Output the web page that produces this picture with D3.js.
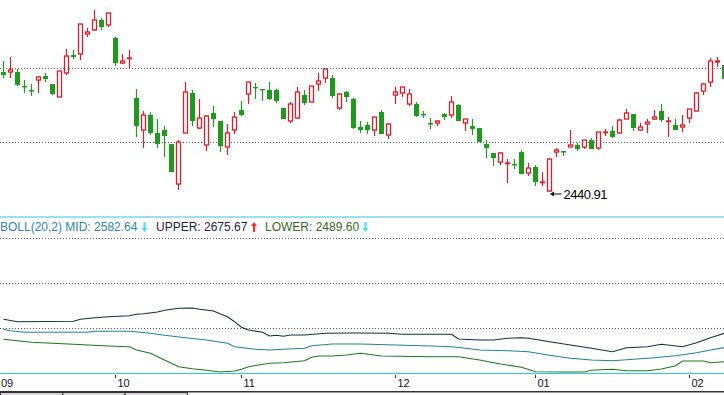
<!DOCTYPE html>
<html>
<head>
<meta charset="utf-8">
<script src="https://cdn.jsdelivr.net/npm/d3@7"></script>
<style>
  body { margin: 0; background: #fff; }
  svg { display: block; }
</style>
</head>
<body>
<svg id="chart"></svg>
<script>
// daily OHLC, one entry per trading day (Sep .. Feb)
const opens = [2662.8,2662.8,2662.8,2636.9,2629.5,2648.0,2655.4,2640.6,2616.6,2661.0,
  2694.3,2696.1,2733.1,2740.5,2759.0,2749.8,2725.7,2679.5,2687.8,2614.7,
  2555.5,2583.3,2550.0,2555.5,2529.6,2455.6,2550.0,2624.0,2559.2,2527.8,
  2587.0,2572.2,2524.1,2555.5,2592.5,2622.1,2635.1,2631.4,2629.5,2629.5,
  2596.2,2572.2,2577.7,2620.3,2607.3,2640.6,2651.7,2651.7,2596.2,2625.8,
  2612.9,2561.1,2564.8,2555.5,2588.8,2546.3,2620.3,2624.0,2603.6,2603.6,
  2585.1,2568.5,2568.5,2585.1,2583.3,2601.8,2568.5,2562.9,2559.2,2529.6,
  2513.0,2496.3,2493.5,2492.6,2514.8,2476.0,2487.1,2458.4,2442.7,2514.8,
  2516.7,2524.1,2527.8,2524.1,2537.0,2522.2,2550.9,2553.7,2550.0,2575.9,
  2585.1,2555.5,2566.6,2575.9,2590.7,2571.2,2564.8,2561.1,2577.7,2590.7,
  2627.7,2644.3,2681.3,2675.8];
const highs = [2683.2,2690.6,2668.4,2648.0,2640.6,2655.4,2661.0,2640.6,2664.7,2705.4,
  2703.5,2751.6,2744.2,2777.5,2762.7,2772.0,2727.6,2696.1,2703.5,2631.4,
  2590.7,2588.8,2575.9,2562.9,2529.6,2537.0,2644.3,2629.5,2612.9,2583.3,
  2599.9,2572.2,2566.6,2588.8,2609.2,2644.3,2642.5,2631.4,2644.3,2631.4,
  2596.2,2607.3,2635.1,2629.5,2636.9,2661.0,2668.4,2657.3,2624.0,2627.7,
  2614.7,2572.2,2570.3,2579.6,2592.5,2568.5,2635.1,2635.1,2631.4,2607.3,
  2590.7,2577.7,2574.0,2587.0,2618.4,2603.6,2575.9,2575.9,2559.2,2537.0,
  2513.0,2514.8,2501.9,2501.9,2518.5,2494.5,2490.8,2477.8,2503.7,2522.2,
  2516.7,2555.5,2531.5,2537.0,2540.7,2551.8,2557.4,2562.9,2575.9,2594.4,
  2585.1,2568.5,2575.9,2592.5,2603.6,2579.6,2575.9,2583.3,2594.4,2625.8,
  2642.5,2688.7,2690.6,2675.8];
const lows = [2651.7,2651.7,2636.9,2624.0,2618.4,2624.0,2644.3,2620.3,2616.6,2657.3,
  2686.9,2685.0,2727.6,2738.7,2740.5,2746.1,2673.9,2677.6,2670.2,2542.6,
  2522.2,2546.3,2522.2,2505.6,2477.8,2444.5,2550.0,2562.9,2557.4,2516.7,
  2561.1,2514.8,2509.3,2548.1,2581.4,2603.6,2612.9,2609.2,2611.0,2605.5,
  2575.9,2568.5,2575.9,2601.8,2607.3,2627.7,2642.5,2614.7,2592.5,2607.3,
  2557.4,2550.0,2548.1,2544.4,2548.1,2538.9,2603.6,2616.6,2599.9,2579.6,
  2577.7,2557.4,2562.9,2574.0,2577.7,2572.2,2553.7,2546.3,2533.3,2503.7,
  2488.9,2490.8,2457.5,2483.4,2474.1,2470.4,2451.9,2451.9,2440.91,2505.6,
  2507.4,2524.1,2516.7,2520.4,2520.4,2518.5,2544.4,2540.7,2548.1,2575.9,
  2553.7,2553.7,2550.0,2574.0,2570.3,2542.6,2555.5,2551.8,2568.5,2590.7,
  2620.3,2635.1,2672.1,2649.9];
const closes = [2657.3,2666.5,2638.8,2636.0,2626.7,2653.6,2649.9,2622.1,2664.7,2692.4,
  2690.6,2751.6,2736.8,2759.0,2746.1,2772.0,2679.5,2683.2,2688.7,2562.9,
  2583.3,2550.0,2529.6,2544.4,2477.8,2533.3,2625.8,2572.2,2577.7,2581.4,
  2575.9,2525.9,2550.0,2579.6,2583.3,2644.3,2634.1,2630.4,2612.9,2609.2,
  2575.9,2603.6,2625.8,2605.5,2636.9,2646.2,2668.4,2618.4,2622.1,2616.6,
  2559.2,2555.5,2555.5,2579.6,2548.1,2566.6,2625.8,2635.1,2622.1,2581.4,
  2584.2,2565.7,2572.2,2579.6,2607.3,2572.2,2575.9,2557.4,2533.3,2522.2,
  2503.7,2513.0,2494.5,2490.8,2474.1,2485.2,2459.3,2459.3,2501.9,2518.5,
  2513.9,2527.8,2520.4,2537.0,2520.4,2551.8,2551.8,2542.6,2574.0,2587.0,
  2559.2,2561.1,2570.3,2579.6,2574.0,2572.2,2555.5,2564.8,2594.4,2624.0,
  2640.6,2683.2,2683.2,2649.9];

// first trading day of each month (index into the series) and its label
const monthStarts = [-1, 16, 34, 56, 76, 98];
const monthLabels = ["09", "10", "11", "12", "01", "02"];

// BOLL(20,2): [day index, value]
const bollUpper = [[0,2767.3],[2,2751.6],[10,2754.2],[11,2767.3],[13,2777.8],[15,2784.3],[18,2790.9],
  [19,2800.1],[20,2804.0],[22,2815.1],[23,2826.3],[25,2839.4],[27,2841.3],[28,2832.8],[30,2821.7],
  [31,2802.0],[32,2784.3],[33,2751.6],[34,2714.9],[35,2697.2],[37,2682.2],[38,2657.9],[39,2662.5],
  [40,2656.0],[41,2664.5],[43,2664.5],[46,2675.6],[50,2677.6],[55,2675.6],[57,2669.1],[64,2669.1],
  [65,2638.3],[68,2631.7],[70,2631.7],[72,2642.9],[74,2646.8],[75,2642.9],[78,2620.6],[81,2599.0],
  [84,2577.4],[87,2555.1],[89,2581.3],[92,2587.8],[94,2603.6],[97,2587.8],[99,2614.0],[101,2646.8],
  [103,2675.67]];
const bollMid = [[0,2701.8],[1,2692.6],[3,2682.2],[12,2682.2],[13,2688.7],[18,2688.7],[21,2675.6],
  [23,2662.5],[26,2646.8],[29,2631.7],[32,2610.1],[33,2587.8],[36,2570.8],[38,2566.2],[40,2570.8],
  [43,2577.4],[44,2594.4],[47,2605.5],[51,2605.5],[56,2599.0],[61,2592.4],[64,2587.8],[66,2577.4],
  [68,2566.2],[72,2561.6],[75,2555.1],[78,2531.5],[81,2511.9],[84,2500.7],[87,2496.1],[90,2505.3],
  [93,2515.8],[96,2528.9],[99,2548.5],[101,2566.2],[103,2582.64]];
const bollLower = [[0,2636.3],[2,2627.1],[4,2616.7],[7,2610.1],[10,2603.6],[15,2592.4],[18,2587.8],
  [19,2566.2],[21,2544.6],[23,2500.7],[25,2456.8],[27,2443.7],[29,2433.3],[31,2422.1],[33,2428.7],
  [34,2439.8],[35,2456.8],[38,2479.1],[40,2483.0],[43,2496.1],[44,2518.4],[45,2526.9],[47,2526.9],
  [49,2533.5],[51,2544.6],[54,2526.9],[61,2522.3],[65,2522.3],[68,2500.7],[71,2474.5],[74,2452.9],
  [76,2424.1],[80,2422.1],[83,2422.1],[84,2433.3],[87,2439.8],[89,2430.6],[92,2430.6],[94,2441.8],
  [96,2463.4],[97,2494.2],[100,2494.2],[101,2483.0],[103,2489.60]];

const width = 724, height = 395;
const font = "'Liberation Sans', Arial, sans-serif";
const red = "#d4202c", green = "#1f9a1f";
const cyan = "#2ec8dc";

let svg = d3.select("#chart")
  .attr("width", width)
  .attr("height", height)
  .style("font-family", font);

let candles = opens.map((o, i) => ({
  i: i, o: o, h: highs[i], l: lows[i], c: closes[i], up: closes[i] >= o
}));

// 7px per trading day
let x = d3.scaleLinear()
  .domain([0, candles.length - 1])
  .range([3.5, 3.5 + 7 * (candles.length - 1)]);

let y = d3.scaleLinear()
  .domain([d3.min(lows), d3.max(highs)])
  .range([192, 10]);

// ---- price panel grid
let pricePanel = {top: -5, bottom: 215};
let ph = pricePanel.bottom - pricePanel.top;
svg.append("g")
  .selectAll("line")
  .data([1, 2])
  .enter()
  .append("line")
  .attr("x1", 0).attr("x2", width)
  .attr("y1", d => Math.round(pricePanel.top + ph * d / 3) + 0.5)
  .attr("y2", d => Math.round(pricePanel.top + ph * d / 3) + 0.5)
  .attr("stroke", "#555")
  .attr("stroke-dasharray", "1,2");

// ---- candles
let cg = svg.append("g");

// wicks: green goes straight through, red skips the hollow body
cg.selectAll(".wick-hi")
  .data(candles)
  .enter()
  .append("line")
  .attr("x1", d => x(d.i)).attr("x2", d => x(d.i))
  .attr("y1", d => y(d.h))
  .attr("y2", d => d.up ? y(d.c) : y(d.l))
  .attr("stroke", d => d.up ? red : green)
  .attr("stroke-width", 1.2);

cg.selectAll(".wick-lo")
  .data(candles.filter(d => d.up))
  .enter()
  .append("line")
  .attr("x1", d => x(d.i)).attr("x2", d => x(d.i))
  .attr("y1", d => y(d.o))
  .attr("y2", d => y(d.l))
  .attr("stroke", red)
  .attr("stroke-width", 1.2);

cg.selectAll(".down")
  .data(candles.filter(d => !d.up))
  .enter()
  .append("rect")
  .attr("x", d => x(d.i) - 2.5)
  .attr("y", d => y(d.o))
  .attr("width", 5)
  .attr("height", d => Math.max(1.3, y(d.c) - y(d.o)))
  .attr("fill", green);

cg.selectAll(".up")
  .data(candles.filter(d => d.up))
  .enter()
  .append("rect")
  .attr("x", d => x(d.i) - 2)
  .attr("y", d => y(d.c))
  .attr("width", 4)
  .attr("height", d => Math.max(0.6, y(d.o) - y(d.c)))
  .attr("fill", "#fff")
  .attr("stroke", red)
  .attr("stroke-width", 1.3);

// ---- lowest low marker
let lowIdx = d3.minIndex(lows);
let lx = x(lowIdx), ly = y(lows[lowIdx]) + 2;
svg.append("path")
  .attr("d", `M${lx + 0.5},${ly} l4,-2.5 v5 z`)
  .attr("fill", "#000");
svg.append("line")
  .attr("x1", lx + 4).attr("x2", lx + 12)
  .attr("y1", ly).attr("y2", ly)
  .attr("stroke", "#000");
svg.append("text")
  .attr("x", lx + 14)
  .attr("y", ly + 5)
  .attr("font-size", 13)
  .attr("letter-spacing", "-0.5px")
  .attr("fill", "#000")
  .text(d3.format(".2f")(lows[lowIdx]));

// ---- panel separator
svg.append("line")
  .attr("x1", 0).attr("x2", width)
  .attr("y1", 217).attr("y2", 217)
  .attr("stroke", cyan);

// ---- BOLL panel
let bollPanel = {top: 238, bottom: 373};
let bh = bollPanel.bottom - bollPanel.top;
svg.append("g")
  .selectAll("line")
  .data([0, 1, 2])
  .enter()
  .append("line")
  .attr("x1", 0).attr("x2", width)
  .attr("y1", d => bollPanel.top + bh * d / 3 + 0.5)
  .attr("y2", d => bollPanel.top + bh * d / 3 + 0.5)
  .attr("stroke", "#555")
  .attr("stroke-dasharray", "1,2");

let yb = d3.scaleLinear()
  .domain([d3.min(bollLower, d => d[1]), d3.max(bollUpper, d => d[1])])
  .range([372, 308]);

let bandLine = d3.line()
  .x(d => x(d[0]))
  .y(d => yb(d[1]));

let bands = [
  {pts: bollUpper, color: "#0d3340"},
  {pts: bollMid, color: "#1f8592"},
  {pts: bollLower, color: "#1d7a1d"}
];
svg.append("g")
  .selectAll("path")
  .data(bands)
  .enter()
  .append("path")
  .attr("d", d => bandLine(d.pts))
  .attr("fill", "none")
  .attr("stroke", d => d.color)
  .attr("stroke-width", 1.1);

// legend row
let last = arr => arr[arr.length - 1][1];
let fmt = d3.format(".2f");
let legend = [
  {text: "BOLL(20,2) MID: " + fmt(last(bollMid)), x: 0, color: "#2f86a4", arrowX: 144.5, arrowUp: false, arrowColor: "#3fe3f3"},
  {text: "UPPER: " + fmt(last(bollUpper)), x: 156, color: "#1e1e50", arrowX: 254, arrowUp: true, arrowColor: "#ff2a2a"},
  {text: "LOWER: " + fmt(last(bollLower)), x: 265, color: "#2f6a1e", arrowX: 365.5, arrowUp: false, arrowColor: "#3fe3f3"}
];
let lg = svg.append("g");
lg.selectAll("text")
  .data(legend)
  .enter()
  .append("text")
  .attr("x", d => d.x)
  .attr("y", 231)
  .attr("font-size", 12)
  .attr("fill", d => d.color)
  .text(d => d.text);

lg.selectAll("path")
  .data(legend)
  .enter()
  .append("path")
  .attr("d", d => d.arrowUp
    ? `M${d.arrowX},222 l3,4 h-2 v6 h-2 v-6 h-2 z`
    : `M${d.arrowX},232 l3,-4 h-2 v-6 h-2 v6 h-2 z`)
  .attr("fill", d => d.arrowColor);

// ---- bottom axis
svg.append("line")
  .attr("x1", 0).attr("x2", width)
  .attr("y1", 373.5).attr("y2", 373.5)
  .attr("stroke", cyan);

let ticks = monthStarts.map((m, k) => ({i: m, label: monthLabels[k]}));
let ag = svg.append("g");
ag.selectAll("line")
  .data(ticks)
  .enter()
  .append("line")
  .attr("x1", d => x(d.i)).attr("x2", d => x(d.i))
  .attr("y1", 375).attr("y2", 378)
  .attr("stroke", "#333");
ag.selectAll("text")
  .data(ticks)
  .enter()
  .append("text")
  .attr("x", d => Math.max(1, x(d.i) + 2))
  .attr("y", 386.5)
  .attr("font-size", 11)
  .attr("fill", "#10102a")
  .text(d => d.label);

// ---- bottom strip (tabs)
svg.append("rect")
  .attr("x", 0).attr("y", 391)
  .attr("width", width).attr("height", 1.5)
  .attr("fill", "#333");
let tabs = [0, 1, 2];
svg.append("g")
  .selectAll("rect")
  .data(tabs)
  .enter()
  .append("rect")
  .attr("x", d => d * 62.3 + 0.5)
  .attr("y", 392.5)
  .attr("width", 62.3)
  .attr("height", 4)
  .attr("fill", "#d4d4d4")
  .attr("stroke", "#333")
  .attr("stroke-width", 1);
</script>
</body>
</html>
